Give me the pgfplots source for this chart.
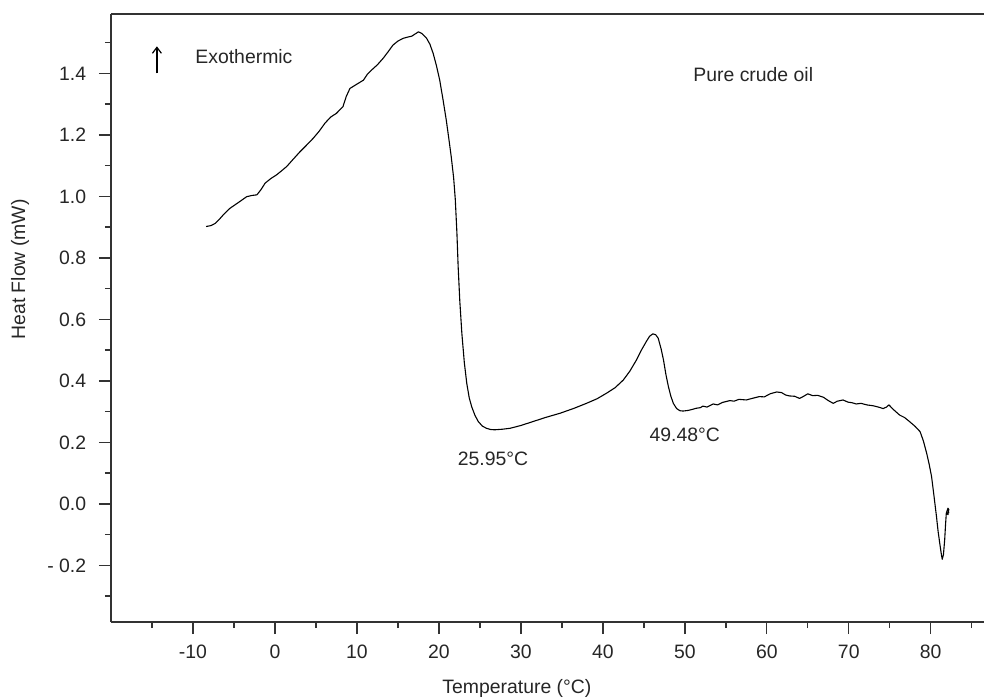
\documentclass[border=0pt]{standalone}
\usepackage{fontspec}
\setmainfont{Liberation Sans}
\usepackage{pgfplots}
\pgfplotsset{compat=1.18}
\usetikzlibrary{arrows.meta}
\begin{document}
\fontsize{9.7}{11.6}\selectfont
\begin{tikzpicture}
\begin{axis}[
  scale only axis, width=436.5pt, height=304pt,
  at={(0,0)}, anchor=south west,
  xmin=-20, xmax=86.5, ymin=-0.384, ymax=1.593,
  axis x line*=bottom, axis y line*=left,
  clip=false,
  tick align=outside,
  major tick length=6pt, minor tick length=3pt,
  xtick={-10,0,10,20,30,40,50,60,70,80},
  xticklabels={-10,0,10,20,30,40,50,60,70,80},
  minor xtick={-15,-5,5,15,25,35,45,55,65,75,85},
  ytick={-0.2,0,0.2,0.4,0.6,0.8,1.0,1.2,1.4},
  yticklabels={- 0.2,0.0,0.2,0.4,0.6,0.8,1.0,1.2,1.4},
  minor ytick={-0.3,-0.1,0.1,0.3,0.5,0.7,0.9,1.1,1.3,1.5},
  axis line style={black!80, line width=0.7pt},
  every tick/.style={black!80, line width=0.7pt},
  xticklabel style={yshift=-2pt},
  yticklabel style={xshift=-3pt},
  tick label style={font=\fontsize{9.7}{11.6}\selectfont, text=black!85},
  label style={font=\fontsize{9.7}{11.6}\selectfont, text=black!85},
  xlabel={Temperature (°C)}, ylabel={Heat Flow (mW)},
  xlabel style={at={([yshift=-33pt]rel axis cs:0.465,0)}, anchor=center},
  ylabel style={at={([xshift=-45.5pt]rel axis cs:0,0.58)}, anchor=center},
]
\draw[black!80, line width=0.7pt] (rel axis cs:0,1) -- (rel axis cs:1,1);
\addplot[black, line width=0.55pt, line join=round] coordinates {
(-8.4,0.902) (-7.8,0.905) (-7.3,0.912) (-6.8,0.925) (-6.3,0.940) (-5.5,0.961)
(-4.9,0.972) (-4.3,0.983) (-3.45,0.999) (-2.8,1.003) (-2.2,1.005) (-1.7,1.022)
(-1.2,1.043) (-0.5,1.058) (0.2,1.070) (0.8,1.083) (1.43,1.097) (2.2,1.120)
(3.05,1.145) (3.8,1.165) (4.67,1.189) (5.4,1.212) (6.1,1.238) (6.8,1.258)
(7.5,1.270) (8.3,1.292) (8.7,1.325) (9.15,1.351) (10.0,1.365) (10.8,1.378)
(11.3,1.398) (11.8,1.411) (12.5,1.428) (13.2,1.449) (13.8,1.470) (14.4,1.492)
(15.0,1.505) (15.65,1.514) (16.2,1.518) (16.7,1.521) (17.1,1.528) (17.5,1.535)
(17.9,1.530) (18.5,1.514) (18.9,1.495) (19.3,1.465) (19.7,1.425) (20.1,1.378)
(20.5,1.315) (20.9,1.248) (21.2,1.190) (21.5,1.130) (21.8,1.060) (22.0,0.990)
(22.2,0.880) (22.35,0.771) (22.55,0.660) (22.8,0.555) (23.1,0.460) (23.4,0.392)
(23.7,0.345) (24.0,0.316) (24.4,0.288) (24.8,0.268) (25.3,0.253) (25.8,0.246)
(26.3,0.242) (26.8,0.241) (27.8,0.243) (28.7,0.246) (30.0,0.255) (31.5,0.268)
(33.0,0.281) (34.8,0.295) (36.5,0.311) (38.0,0.327) (39.3,0.342) (40.45,0.360)
(41.5,0.378) (42.5,0.403) (43.3,0.432) (44.1,0.468) (44.7,0.500) (45.3,0.528)
(45.7,0.545) (46.1,0.553) (46.45,0.550) (46.75,0.539) (47.1,0.505) (47.4,0.468)
(47.7,0.420) (48.0,0.381) (48.3,0.350) (48.6,0.327) (49.0,0.310) (49.4,0.303)
(49.8,0.302) (50.4,0.304) (51.0,0.308) (51.4,0.311) (51.9,0.313) (52.2,0.318)
(52.7,0.315) (53.45,0.325) (54.0,0.322) (54.6,0.330) (55.5,0.336) (56.0,0.334)
(56.6,0.340) (57.5,0.338) (58.2,0.343) (59.1,0.349) (59.7,0.348) (60.4,0.358)
(61.2,0.364) (61.8,0.362) (62.3,0.354) (62.8,0.351) (63.4,0.350) (64.0,0.343)
(64.5,0.350) (65.0,0.358) (65.6,0.352) (66.2,0.353) (66.9,0.347) (67.5,0.336)
(68.1,0.327) (68.6,0.334) (69.3,0.338) (69.9,0.331) (70.4,0.329) (70.9,0.325)
(71.5,0.327) (72.2,0.322) (73.0,0.319) (73.6,0.315) (74.2,0.310) (74.6,0.315)
(74.9,0.322) (75.4,0.308) (76.2,0.289) (76.8,0.281) (77.4,0.268) (78.1,0.252)
(78.7,0.235) (79.1,0.205) (79.5,0.165) (79.8,0.130) (80.1,0.089) (80.4,0.025)
(80.7,-0.041) (80.9,-0.090) (81.1,-0.128) (81.3,-0.165) (81.4,-0.180) (81.55,-0.165)
(81.7,-0.117) (81.8,-0.070) (81.9,-0.030) (82.0,-0.022) (82.1,-0.014) (82.2,-0.018)
(82.1,-0.035) (82.0,-0.030) (82.25,-0.028)
};
\draw[black, line width=0.6pt, -{Straight Barb[length=3pt,width=4.5pt]}] (axis cs:-14.4,1.40) -- (axis cs:-14.4,1.488);
\node[anchor=west, inner sep=0pt, text=black!85] at (axis cs:-9.75,1.453) {Exothermic};
\node[anchor=west, inner sep=0pt, text=black!85] at (axis cs:51.0,1.395) {Pure crude oil};
\node[anchor=center, inner sep=0pt, text=black!85] at (axis cs:26.6,0.146) {25.95°C};
\node[anchor=center, inner sep=0pt, text=black!85] at (axis cs:50.0,0.224) {49.48°C};
\end{axis}
\pgfresetboundingbox
\path (-55.5pt,-38pt) rectangle (436.5pt,311pt);
\end{tikzpicture}
\end{document}
